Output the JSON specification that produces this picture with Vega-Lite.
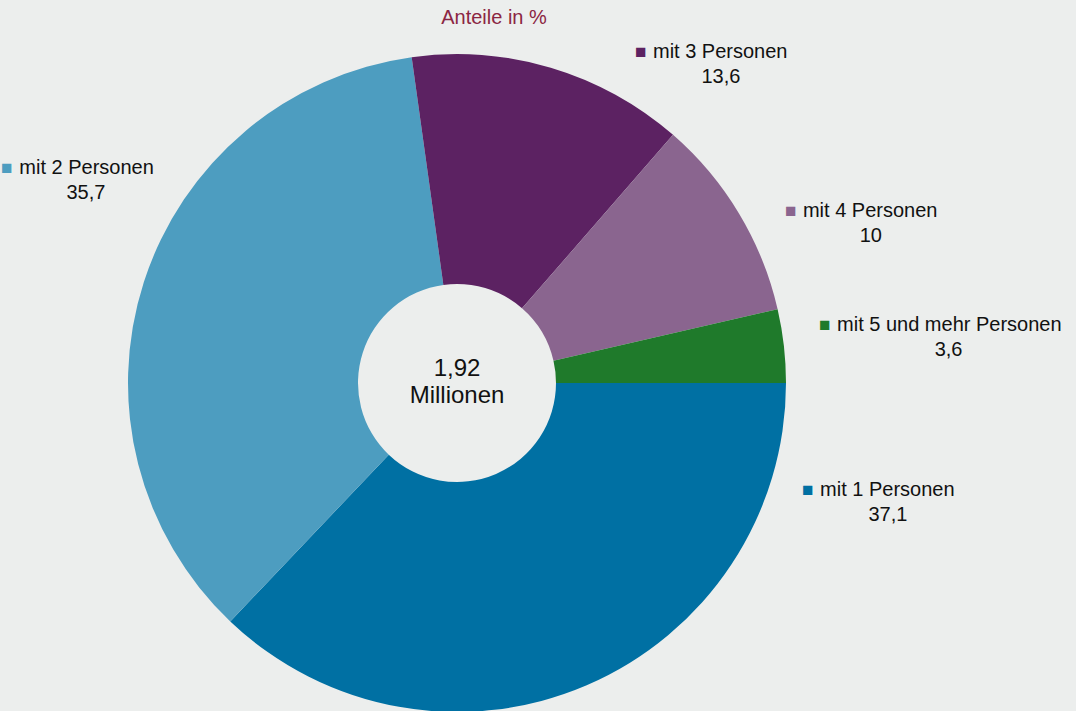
{
  "$schema": "https://vega.github.io/schema/vega-lite/v6.json",
  "autosize": "none",
  "width": 914,
  "height": 656,
  "padding": {"left": 0, "top": 55, "right": 162, "bottom": 0},
  "background": "#eceeed",
  "title": {
    "text": "Anteile in %",
    "color": "#8b2543",
    "fontSize": 20,
    "fontWeight": "normal",
    "font": "Liberation Sans",
    "anchor": "middle",
    "frame": "group",
    "dx": 37,
    "offset": 14
  },
  "config": {
    "view": {"stroke": null},
    "locale": {"number": {"decimal": ",", "thousands": ".", "grouping": [3], "currency": ["", " €"]}},
    "text": {"font": "Liberation Sans", "color": "#111111"}
  },
  "data": {
    "values": [
      {"category": "mit 1 Personen", "share": 37.1},
      {"category": "mit 2 Personen", "share": 35.7},
      {"category": "mit 3 Personen", "share": 13.6},
      {"category": "mit 4 Personen", "share": 10},
      {"category": "mit 5 und mehr Personen", "share": 3.6}
    ]
  },
  "resolve": {"scale": {"theta": "independent"}},
  "layer": [
    {
      "mark": {"type": "arc", "outerRadius": 329, "innerRadius": 99},
      "encoding": {
        "theta": {"field": "share", "type": "quantitative", "stack": true, "scale": {"domain": [0, 100], "range": [1.5708, 7.854]}},
        "color": {
          "field": "category", "type": "nominal", "legend": null,
          "scale": {
            "domain": ["mit 1 Personen", "mit 2 Personen", "mit 3 Personen", "mit 4 Personen", "mit 5 und mehr Personen"],
            "range": ["#0070a3", "#4d9dc0", "#5c2262", "#8a658f", "#1f7a2b"]
          }
        },
        "order": {"field": "category", "type": "ordinal"}
      }
    },
    {
      "data": {"values": [{"caption": "1,92\nMillionen"}]},
      "mark": {"type": "text", "fontSize": 24, "lineHeight": 27, "lineBreak": "\n", "align": "center", "baseline": "middle", "dy": -14},
      "encoding": {"text": {"field": "caption", "type": "nominal"}}
    },
    {
      "mark": {
        "type": "text", "text": "■", "fontSize": 19, "radius": 365, "align": "left", "baseline": "middle", "dy": -12,
        "dx": {"expr": "sin(-5.4507 + 13.261 * pow((datum.share_start + datum.share_end) / 200, 0.35)) < 0 ? -(length(datum.category) * 9.7 + 17) : 0"}
      },
      "encoding": {
        "theta": {"field": "share", "type": "quantitative", "stack": true, "scale": {"type": "pow", "exponent": 0.35, "domain": [0, 100], "range": [-5.4507, 7.8103]}},
        "color": {"field": "category", "type": "nominal", "legend": null},
        "order": {"field": "category", "type": "ordinal"}
      }
    },
    {
      "mark": {
        "type": "text", "fontSize": 20, "radius": 365, "baseline": "middle", "dy": -12,
        "align": {"expr": "sin(-5.4507 + 13.261 * pow((datum.share_start + datum.share_end) / 200, 0.35)) < 0 ? 'right' : 'left'"},
        "dx": {"expr": "sin(-5.4507 + 13.261 * pow((datum.share_start + datum.share_end) / 200, 0.35)) < 0 ? 0 : 18"}
      },
      "encoding": {
        "theta": {"field": "share", "type": "quantitative", "stack": true, "scale": {"type": "pow", "exponent": 0.35, "domain": [0, 100], "range": [-5.4507, 7.8103]}},
        "detail": {"field": "category", "type": "nominal"},
        "order": {"field": "category", "type": "ordinal"},
        "text": {"field": "category", "type": "nominal"}
      }
    },
    {
      "mark": {
        "type": "text", "fontSize": 20, "radius": 365, "baseline": "middle", "dy": 13, "align": "center",
        "dx": {"expr": "sin(-5.4507 + 13.261 * pow((datum.share_start + datum.share_end) / 200, 0.35)) < 0 ? -(length(datum.category) * 4.85) : 18 + length(datum.category) * 4.85"}
      },
      "encoding": {
        "theta": {"field": "share", "type": "quantitative", "stack": true, "scale": {"type": "pow", "exponent": 0.35, "domain": [0, 100], "range": [-5.4507, 7.8103]}},
        "detail": {"field": "category", "type": "nominal"},
        "order": {"field": "category", "type": "ordinal"},
        "text": {"field": "share", "type": "quantitative", "format": ".3~r"}
      }
    }
  ]
}
